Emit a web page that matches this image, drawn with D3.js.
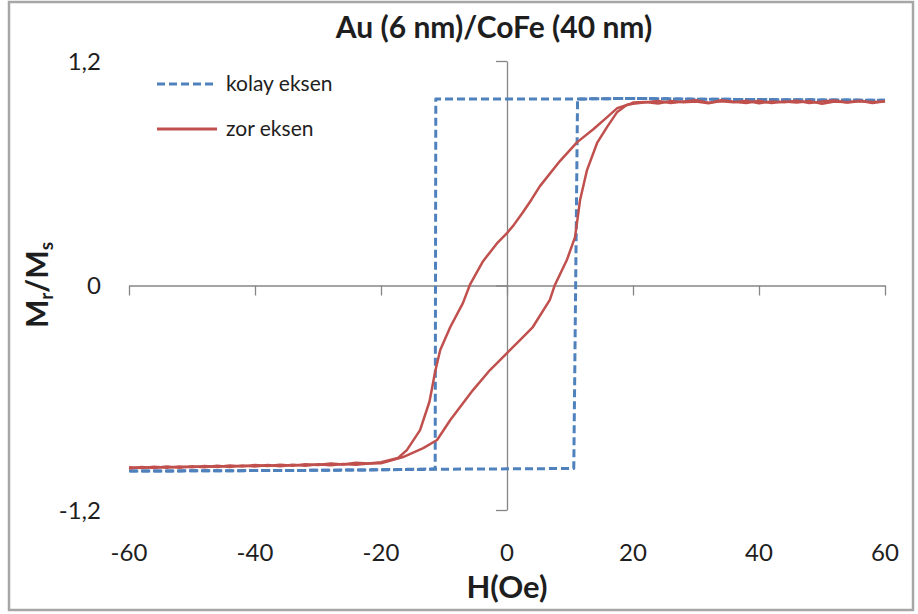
<!DOCTYPE html>
<html>
<head>
<meta charset="utf-8">
<script src="https://cdn.jsdelivr.net/npm/d3@7"></script>
<style>
  body { margin: 0; background: #fff; }
  svg text { font-family: Lato, "Open Sans", sans-serif; fill: #1e1e1e; }
</style>
</head>
<body>
<div id="chart"></div>
<script>
// axis ticks
const xTicks = [-60, -40, -20, 0, 20, 40, 60];
const yTicks = [-1.2, 0, 1.2];

// kolay eksen (easy axis) - square loop
const blueUpH = [-60, -45, -30, -20, -10, 0, 10.6, 11.2, 20, 30, 45, 60];
const blueUpM = [-0.992, -0.99, -0.988, -0.985, -0.982, -0.98, -0.978, 0.997, 1.0, 0.996, 0.993, 0.99];
const blueDownH = [60, 45, 30, 20, 11.2, 0, -11.3, -11.4, -20, -30, -45, -60];
const blueDownM = [0.99, 0.993, 0.996, 1.0, 0.997, 0.997, 0.997, -0.98, -0.985, -0.988, -0.99, -0.992];

// zor eksen (hard axis) - descending field branch
const redDownH = [60, 58, 56, 54, 52, 50, 48, 46, 44, 42, 40, 38, 36, 34, 32, 30, 28, 26, 24, 22, 20,
  19.5, 17.5, 15.9, 13.7, 11.1, 8.4, 5.2, 3.9, 2.5, 1, 0, -1.6, -3.8, -5.9, -7, -9, -10.6, -11.4, -12.3, -13.8, -15.9, -17.3,
  -20, -22, -24, -26, -28, -30, -32, -34, -36, -38, -40, -42, -44, -46, -48, -50, -52, -54, -56, -58, -60];
const redDownM = [0.985, 0.975, 0.988, 0.979, 0.984, 0.972, 0.986, 0.978, 0.983, 0.975, 0.987, 0.976, 0.982, 0.99, 0.974, 0.984, 0.979, 0.986, 0.973, 0.981, 0.978,
  0.97, 0.948, 0.9, 0.835, 0.765, 0.665, 0.53, 0.46, 0.39, 0.32, 0.28, 0.225, 0.13, 0.003, -0.094, -0.222, -0.345, -0.46, -0.62, -0.773, -0.88, -0.922,
  -0.945, -0.952, -0.948, -0.957, -0.951, -0.96, -0.955, -0.963, -0.958, -0.965, -0.96, -0.968, -0.962, -0.97, -0.965, -0.972, -0.967, -0.974, -0.969, -0.975, -0.971];

// zor eksen - ascending field branch
const redUpH = [-60, -58, -56, -54, -52, -50, -48, -46, -44, -42, -40, -38, -36, -34, -32, -30, -28, -26, -24, -22,
  -20, -16.5, -13.3, -11.1, -9, -5.4, -2.7, -1.9, 0, 2.1, 4.1, 6.8, 7.6, 9.5, 10.8, 11.6, 12.7, 14.3, 15.9, 17.5, 19, 20,
  22, 24, 26, 28, 30, 32, 34, 36, 38, 40, 42, 44, 46, 48, 50, 52, 54, 56, 58, 60];
const redUpM = [-0.978, -0.97, -0.976, -0.968, -0.974, -0.966, -0.972, -0.964, -0.97, -0.962, -0.968, -0.96, -0.966, -0.958, -0.963, -0.956, -0.961, -0.954, -0.958, -0.952,
  -0.95, -0.917, -0.869, -0.826, -0.719, -0.559, -0.452, -0.425, -0.361, -0.291, -0.222, -0.077, 0.003, 0.136, 0.259, 0.457, 0.617, 0.762, 0.848, 0.928, 0.965, 0.972,
  0.98, 0.986, 0.975, 0.983, 0.99, 0.977, 0.985, 0.979, 0.988, 0.974, 0.984, 0.98, 0.987, 0.976, 0.983, 0.989, 0.978, 0.985, 0.981, 0.983];

const blueColor = '#4f81bd';
const redColor = '#c0504d';
const axisColor = '#868686';

let width = 918, height = 614;

let svg = d3.select('#chart').append('svg')
  .attr('width', width)
  .attr('height', height);

// outer chart border
svg.append('rect')
  .attr('x', 9).attr('y', 2)
  .attr('width', 904).attr('height', 608)
  .attr('fill', 'none')
  .attr('stroke', '#a6a6a6')
  .attr('stroke-width', 2.5);

let x = d3.scaleLinear().domain([-60, 60]).range([129, 885]);
let y = d3.scaleLinear().domain([-1.2, 1.2]).range([510, 61]);

let locale = d3.formatLocale({decimal: ',', thousands: '.', grouping: [3], currency: ['', ''], minus: '-'});
let fmt = locale.format('');

// horizontal axis crosses at M = 0
let xAxis = svg.append('g')
  .attr('transform', 'translate(0,' + y(0) + ')')
  .call(d3.axisBottom(x).tickValues(xTicks).tickSize(10).tickSizeOuter(0).tickFormat(''));

// vertical axis crosses at H = 0
let yAxis = svg.append('g')
  .attr('transform', 'translate(' + x(0) + ',0)')
  .call(d3.axisLeft(y).tickValues(yTicks).tickSize(11).tickSizeOuter(0).tickFormat(''));

[xAxis, yAxis].forEach(function(g) {
  g.selectAll('path, line').attr('stroke', axisColor).attr('stroke-width', 1.3);
});

// tick labels sit at the low end of the chart (Excel style)
svg.append('g')
  .selectAll('text')
  .data(xTicks)
  .join('text')
  .attr('x', d => x(d))
  .attr('y', 561)
  .attr('text-anchor', 'middle')
  .style('font-size', '24px')
  .text(d => fmt(d));

svg.append('g')
  .selectAll('text')
  .data(yTicks)
  .join('text')
  .attr('x', 101)
  .attr('y', d => y(d) + 8.5)
  .attr('text-anchor', 'end')
  .style('font-size', '24px')
  .text(d => fmt(d));

let line = d3.line()
  .x(d => x(d[0]))
  .y(d => y(d[1]));

let series = [
  {h: blueUpH, m: blueUpM, color: blueColor, dash: '8,4', w: 3},
  {h: blueDownH, m: blueDownM, color: blueColor, dash: '8,4', w: 3},
  {h: redDownH, m: redDownM, color: redColor, dash: null, w: 2.5},
  {h: redUpH, m: redUpM, color: redColor, dash: null, w: 2.5}
];

series.forEach(function(s) {
  svg.append('path')
    .datum(d3.zip(s.h, s.m))
    .attr('fill', 'none')
    .attr('stroke', s.color)
    .attr('stroke-width', s.w)
    .attr('stroke-dasharray', s.dash)
    .attr('stroke-linejoin', 'round')
    .attr('d', line);
});

// legend
let legendItems = [
  {label: 'kolay eksen', color: blueColor, dash: '8,4', w: 3, y: 84},
  {label: 'zor eksen', color: redColor, dash: null, w: 3, y: 129}
];
let legend = svg.append('g');
legendItems.forEach(function(item) {
  legend.append('line')
    .attr('x1', 157).attr('x2', 217)
    .attr('y1', item.y).attr('y2', item.y)
    .attr('stroke', item.color)
    .attr('stroke-width', item.w)
    .attr('stroke-dasharray', item.dash);
  legend.append('text')
    .attr('x', 226)
    .attr('y', item.y + 7)
    .style('font-size', '21px')
    .text(item.label);
});

// titles
svg.append('text')
  .attr('x', 494)
  .attr('y', 38)
  .attr('text-anchor', 'middle')
  .style('font-size', '30px')
  .style('font-weight', 'bold')
  .text('Au (6 nm)/CoFe (40 nm)');

svg.append('text')
  .attr('x', 507)
  .attr('y', 597.5)
  .attr('text-anchor', 'middle')
  .style('font-size', '31px')
  .style('font-weight', 'bold')
  .text('H(Oe)');

let yTitle = svg.append('text')
  .attr('transform', 'translate(48,285) rotate(-90)')
  .attr('text-anchor', 'middle')
  .style('font-size', '30px')
  .style('font-weight', 'bold');
yTitle.append('tspan').text('M');
yTitle.append('tspan').attr('dy', 5).style('font-size', '19px').text('r');
yTitle.append('tspan').attr('dy', -5).text('/M');
yTitle.append('tspan').attr('dy', 5).style('font-size', '19px').text('s');
</script>
</body>
</html>
